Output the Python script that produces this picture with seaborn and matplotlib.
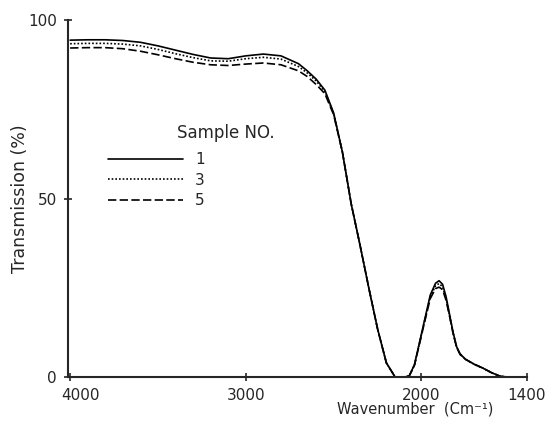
import pandas as pd
import numpy as np
import matplotlib
matplotlib.use("Agg")
import matplotlib.pyplot as plt
import matplotlib.transforms as mtransforms
import seaborn as sns

sns.set_style("ticks")
plt.rcParams['font.family'] = ['DejaVu Sans']

# wavenumber (cm^-1)
wavenumber = [4000, 3900, 3800, 3700, 3600, 3500, 3400, 3300, 3200, 3100,
              3000, 2900, 2800, 2700, 2650, 2600, 2550, 2500, 2450, 2400,
              2350, 2300, 2250, 2200, 2150, 2100, 2070, 2040, 2010, 1980,
              1950, 1920, 1900, 1880, 1860, 1840, 1820, 1800, 1780, 1750,
              1700, 1650, 1600, 1550, 1500, 1450, 1400]

# transmission (%) per sample
sample_1 = [94.4, 94.5, 94.5, 94.3, 93.8, 92.8, 91.6, 90.4, 89.4, 89.2,
            90.0, 90.5, 90.0, 87.8, 85.8, 83.5, 80.4, 74.0, 63.0, 48.5,
            37.0, 25.0, 13.5, 4.0, 0.0, 0.0, 0.3, 3.5, 10.0, 16.5,
            23.0, 26.3, 27.0, 26.0, 22.5, 17.5, 12.5, 8.5, 6.5, 5.0,
            3.6, 2.5, 1.2, 0.2, 0.0, 0.0, 0.0]
sample_3 = [93.4, 93.5, 93.5, 93.3, 92.8, 91.8, 90.6, 89.5, 88.6, 88.5,
            89.2, 89.6, 89.1, 87.0, 85.2, 83.0, 80.0, 73.8, 63.0, 48.5,
            37.0, 25.0, 13.5, 4.0, 0.0, 0.0, 0.3, 3.4, 9.8, 16.2,
            22.5, 25.6, 26.2, 25.3, 22.0, 17.2, 12.3, 8.4, 6.4, 5.0,
            3.6, 2.5, 1.2, 0.2, 0.0, 0.0, 0.0]
sample_5 = [92.2, 92.3, 92.3, 92.0, 91.3, 90.3, 89.2, 88.2, 87.5, 87.3,
            87.7, 88.0, 87.5, 85.8, 84.2, 82.0, 79.4, 73.5, 63.0, 48.5,
            37.0, 25.0, 13.5, 4.0, 0.0, 0.0, 0.3, 3.3, 9.6, 15.9,
            22.0, 24.8, 25.2, 24.5, 21.5, 17.0, 12.2, 8.3, 6.3, 5.0,
            3.6, 2.5, 1.2, 0.2, 0.0, 0.0, 0.0]

samples = ['1', '3', '5']
x_ticks = [4000, 3000, 2000, 1400]
y_ticks = [0, 50, 100]

df = pd.concat([
    pd.DataFrame({'wavenumber': wavenumber, 'transmission': vals, 'sample': s})
    for s, vals in zip(samples, [sample_1, sample_3, sample_5])
])

fig = plt.figure(figsize=(5.5, 4.29), dpi=100)
ax = fig.add_axes([0.124, 0.121, 0.834, 0.832])

dashes = {'1': '', '3': (1, 1.2), '5': (5, 2)}
sns.lineplot(data=df, x='wavenumber', y='transmission', style='sample',
             dashes=dashes, color='black', linewidth=1.2, ax=ax,
             sort=False, legend=True)

ax.set_xlim(4011, 1400)
ax.set_ylim(0, 100)
ax.set_xticks(x_ticks)
ax.set_yticks(y_ticks)
sns.despine(ax=ax)
for sp in ['left', 'bottom']:
    ax.spines[sp].set_linewidth(1.5)
ax.tick_params(direction='inout', length=6, width=1.2, labelsize=11, pad=5)

# first x label sits a bit right of its tick in the original
first = ax.get_xticklabels()[0]
first.set_transform(first.get_transform() +
                    mtransforms.ScaledTranslation(10 / 100, 0, fig.dpi_scale_trans))

ax.set_ylabel('Transmission (%)', fontsize=12.5)
ax.yaxis.label.set_va('center')
ax.yaxis.set_label_coords(-0.105, 0.5)
ax.set_xlabel('Wavenumber  (Cm⁻¹)', fontsize=10.5)
ax.xaxis.label.set_va('center')
ax.xaxis.set_label_coords(0.756, -0.09)

handles, labels = ax.get_legend_handles_labels()
ax.legend(handles, labels, frameon=False, loc='upper left',
          bbox_to_anchor=(0.171, 0.678), bbox_transform=fig.transFigure,
          handlelength=4.9, handletextpad=0.8, labelspacing=0.37, fontsize=11)
fig.text(0.322, 0.690, 'Sample NO.', fontsize=12, va='center', ha='left')

fig.savefig('out.png', dpi=100)
